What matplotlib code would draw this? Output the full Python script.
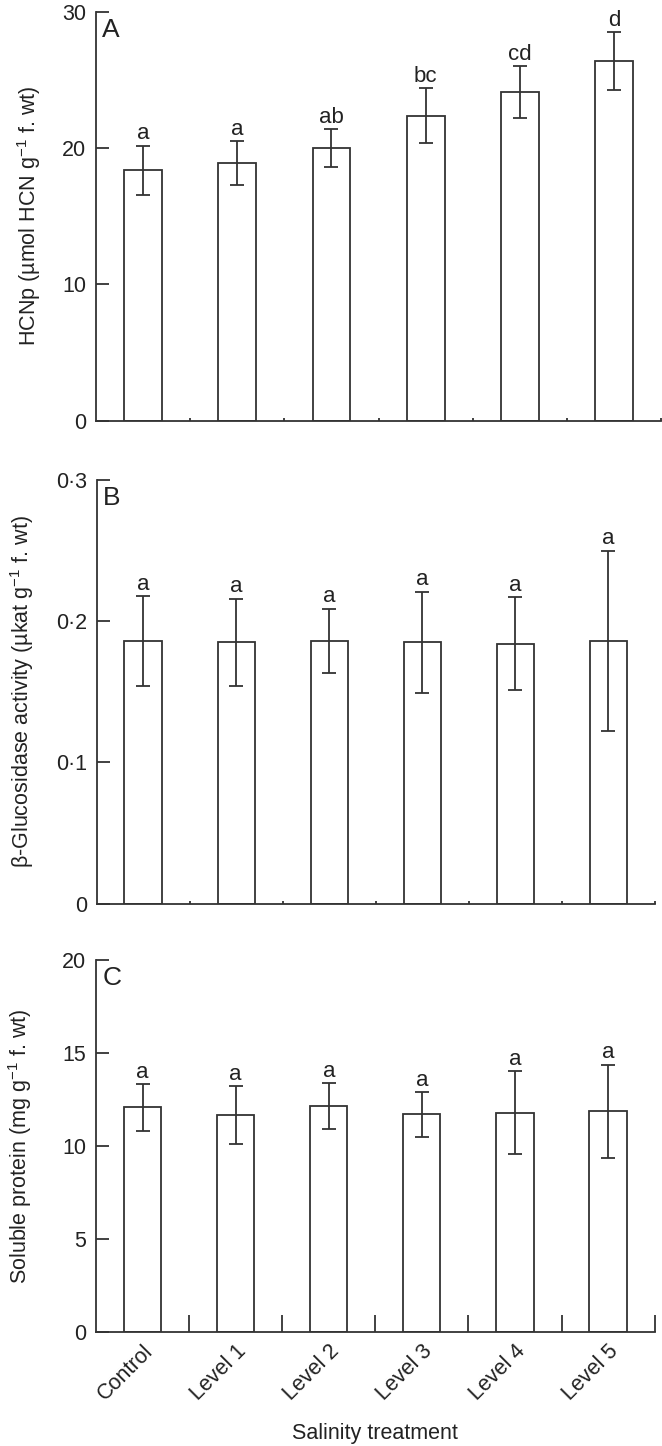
import matplotlib
matplotlib.use("Agg")
import matplotlib.pyplot as plt
import numpy as np

plt.rcParams['font.family'] = ['Liberation Sans', 'DejaVu Sans']
plt.rcParams['mathtext.fontset'] = 'custom'
plt.rcParams['mathtext.rm'] = 'Liberation Sans'
plt.rcParams['mathtext.default'] = 'regular'

categories = ["Control", "Level 1", "Level 2", "Level 3", "Level 4", "Level 5"]

hcnp_mean = [18.4, 18.9, 20.0, 22.4, 24.1, 26.4]
hcnp_err = [1.8, 1.6, 1.4, 2.0, 1.9, 2.1]
hcnp_letters = ["a", "a", "ab", "bc", "cd", "d"]

gluc_mean = [0.186, 0.185, 0.186, 0.185, 0.184, 0.186]
gluc_err = [0.032, 0.031, 0.023, 0.036, 0.033, 0.064]
gluc_letters = ["a", "a", "a", "a", "a", "a"]

prot_mean = [12.08, 11.65, 12.13, 11.70, 11.79, 11.86]
prot_err = [1.25, 1.56, 1.24, 1.19, 2.23, 2.51]
prot_letters = ["a", "a", "a", "a", "a", "a"]

W, H = 662, 1446
fig = plt.figure(figsize=(W / 100, H / 100), dpi=100)

col = '#333333'
tcol = '#222222'
fs = 15.5
fs_let = 16

def px_axes(left, right, top, bottom):
    return fig.add_axes([left / W, 1 - bottom / H, (right - left) / W, (bottom - top) / H])

panels = [
    dict(box=(95.7, 661.5, 12, 420.7), mean=hcnp_mean, err=hcnp_err, letters=hcnp_letters,
         ylim=30, yticks=[0, 10, 20, 30], ylabels=["0", "10", "20", "30"], tag="A",
         ylab=r"HCNp (µmol HCN g$^{-1}$ f. wt)", minorlen=2, lab_x=29),
    dict(box=(96.5, 655, 480, 903.7), mean=gluc_mean, err=gluc_err, letters=gluc_letters,
         ylim=0.3, yticks=[0, 0.1, 0.2, 0.3], ylabels=["0", "0·1", "0·2", "0·3"], tag="B",
         ylab=r"β-Glucosidase activity (µkat g$^{-1}$ f. wt)", minorlen=2, lab_x=22),
    dict(box=(96, 654.6, 960, 1332), mean=prot_mean, err=prot_err, letters=prot_letters,
         ylim=20, yticks=[0, 5, 10, 15, 20], ylabels=["0", "5", "10", "15", "20"], tag="C",
         ylab=r"Soluble protein (mg g$^{-1}$ f. wt)", minorlen=12, lab_x=20),
]

x = np.arange(len(categories))

for i, p in enumerate(panels):
    l, r, t, b = p['box']
    ax = px_axes(l, r, t, b)
    ax.bar(x, p['mean'], width=0.40, color='white', edgecolor=col, linewidth=1.3, zorder=2)
    ax.errorbar(x, p['mean'], yerr=p['err'], fmt='none', ecolor=col, elinewidth=1.3,
                capsize=4.8, capthick=1.3, zorder=3)
    for xi, m, e, lt in zip(x, p['mean'], p['err'], p['letters']):
        ax.annotate(lt, (xi, m + e), xytext=(0, 4.5), textcoords='offset points',
                    ha='center', va='baseline', fontsize=fs_let, color=tcol)
    ax.set_xlim(-0.5, 5.5)
    ax.set_ylim(0, p['ylim'])
    ax.set_yticks(p['yticks'])
    ax.set_yticklabels(p['ylabels'])
    ax.spines['top'].set_visible(False)
    ax.spines['right'].set_visible(False)
    for s in ['left', 'bottom']:
        ax.spines[s].set_color(col)
        ax.spines[s].set_linewidth(1.3)
    ax.tick_params(axis='y', direction='in', length=9, width=1.3, color=col,
                   labelsize=fs, pad=7, labelcolor=tcol)
    ax.set_xticks(x)
    ax.set_xticks(np.arange(0.5, 6.0, 1.0), minor=True)
    ax.tick_params(axis='x', which='major', length=0, labelsize=fs, labelcolor=tcol, pad=6)
    ax.tick_params(axis='x', which='minor', direction='in', length=p['minorlen'], width=1.3, color=col)
    if i < 2:
        ax.set_xticklabels([])
    else:
        ax.set_xticklabels(categories, rotation=45, ha='right', rotation_mode='anchor')
    ax.text(0.011, 0.985, p['tag'], transform=ax.transAxes, ha='left', va='top',
            fontsize=19, color=tcol)
    fig.text(p['lab_x'] / W, 1 - ((t + b) / 2) / H, p['ylab'], rotation=90,
             ha='center', va='center', fontsize=fs, color=tcol)

fig.text(375 / W, 1 - 1433 / H, "Salinity treatment", ha='center', va='center',
         fontsize=fs, color=tcol)

fig.savefig("out.png", dpi=100)
